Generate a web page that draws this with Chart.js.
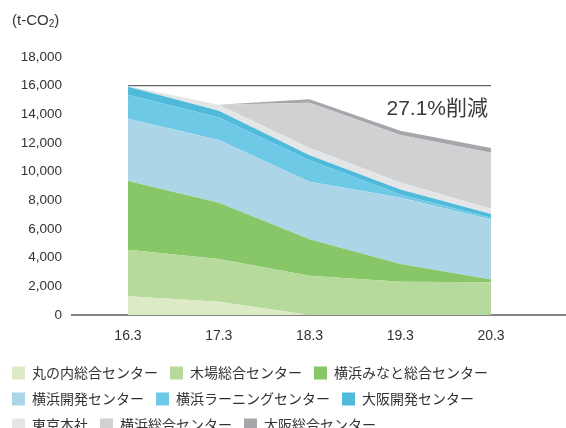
<!DOCTYPE html>
<html>
<head>
<meta charset="utf-8">
<script src="https://cdn.jsdelivr.net/npm/chart.js@4"></script>
<style>
  html, body { margin: 0; padding: 0; background: #fff; overflow: hidden; }
  #wrap { width: 566px; height: 442px; }
</style>
</head>
<body>
<div id="wrap"><canvas id="grafico"></canvas></div>
<script>
// datos (t-CO2) por año fiscal
const periodos = ["16.3", "17.3", "18.3", "19.3", "20.3"];
const marunouchi = [1310, 930, 0, 0, 0];
const kiba = [3250, 2980, 2740, 2320, 2280];
const minato = [4790, 3930, 2540, 1240, 200];
const yokohamaKaihatsu = [4350, 4370, 4020, 4640, 4190];
const yokohamaLearning = [1670, 1570, 1500, 200, 120];
const osakaKaihatsu = [560, 470, 350, 350, 250];
const tokyoHonsha = [50, 420, 500, 500, 380];
const yokohamaSogo = [0, 0, 3150, 3300, 3900];
const osakaSogo = [0, 0, 250, 300, 330];
const nivelBase = [16000, 16000, 16000, 16000, 16000];
const ticksY = [0, 2000, 4000, 6000, 8000, 10000, 12000, 14000, 16000, 18000];

const unidad = "(t-CO";
const textoReduccion = "27.1%削減";

const series = [
  { nombre: "丸の内総合センター", datos: marunouchi, color: "#dcebc5" },
  { nombre: "木場総合センター", datos: kiba, color: "#b6da9b" },
  { nombre: "横浜みなと総合センター", datos: minato, color: "#87c767" },
  { nombre: "横浜開発センター", datos: yokohamaKaihatsu, color: "#acd5e8" },
  { nombre: "横浜ラーニングセンター", datos: yokohamaLearning, color: "#6ec9e6" },
  { nombre: "大阪開発センター", datos: osakaKaihatsu, color: "#4fbad9" },
  { nombre: "東京本社", datos: tokyoHonsha, color: "#e4e5e7" },
  { nombre: "横浜総合センター", datos: yokohamaSogo, color: "#d0d1d3" },
  { nombre: "大阪総合センター", datos: osakaSogo, color: "#a6a7ab" }
];

const datasets = series.map((s, i) => ({
  label: s.nombre,
  data: s.datos.map((v, j) => ({ x: j, y: v })),
  backgroundColor: s.color,
  borderColor: s.color,
  borderWidth: 0,
  pointRadius: 0,
  tension: 0,
  fill: i === 0 ? "origin" : "-1",
  stack: "total"
}));

datasets.push({
  label: "base",
  data: nivelBase.map((v, j) => ({ x: j, y: v })),
  borderColor: "#666",
  borderWidth: 1.2,
  pointRadius: 0,
  fill: false,
  stack: "ref"
});

const textos = {
  id: "textos",
  afterDraw(chart) {
    const ctx = chart.ctx;
    const sx = chart.scales.x;
    const sy = chart.scales.y;
    ctx.save();
    ctx.fillStyle = "#333";
    ctx.textBaseline = "alphabetic";

    // unidad arriba a la izquierda
    ctx.font = "15px 'Liberation Sans', Arial, sans-serif";
    ctx.textAlign = "left";
    ctx.fillText(unidad, 12, 25);
    let x = 12 + ctx.measureText(unidad).width;
    ctx.font = "10px 'Liberation Sans', Arial, sans-serif";
    ctx.fillText("2", x, 27);
    x += ctx.measureText("2").width;
    ctx.font = "15px 'Liberation Sans', Arial, sans-serif";
    ctx.fillText(")", x, 25);

    // porcentaje de reducción
    ctx.font = "21px 'Liberation Sans', 'Noto Sans CJK JP', sans-serif";
    ctx.fillStyle = "#3a3a3a";
    ctx.textAlign = "right";
    ctx.fillText(textoReduccion, sx.getPixelForValue(4) - 3, sy.getPixelForValue(16000) + 29);
    ctx.restore();
  }
};

const ctx = document.getElementById("grafico").getContext("2d");
new Chart(ctx, {
  type: "line",
  data: { datasets },
  options: {
    responsive: true,
    maintainAspectRatio: false,
    animation: false,
    layout: { padding: { top: 57, left: 0, right: 0, bottom: 0 } },
    plugins: {
      tooltip: { enabled: false },
      legend: {
        position: "bottom",
        align: "start",
        labels: {
          filter: item => item.text !== "base",
          boxWidth: 13,
          boxHeight: 13,
          padding: 12,
          color: "#333",
          font: { family: "'Noto Sans CJK JP', sans-serif", size: 14 }
        }
      }
    },
    scales: {
      x: {
        type: "linear",
        min: -0.617,
        max: 4.826,
        grid: { display: false },
        border: { display: true, color: "#858585", width: 2 },
        afterBuildTicks: s => { s.ticks = periodos.map((p, i) => ({ value: i })); },
        afterFit: s => { s.height = 39; },
        ticks: {
          padding: 5,
          color: "#333",
          font: { family: "'Liberation Sans', Arial, sans-serif", size: 14 },
          callback: v => periodos[v]
        }
      },
      y: {
        stacked: true,
        min: 0,
        max: 18000,
        grid: { display: false, drawTicks: false },
        border: { display: false },
        afterBuildTicks: s => { s.ticks = ticksY.map(v => ({ value: v })); },
        afterFit: s => { s.width = 72; },
        ticks: {
          padding: 10,
          color: "#333",
          font: { family: "'Liberation Sans', Arial, sans-serif", size: 13.5 },
          callback: v => v.toLocaleString("en-US")
        }
      }
    }
  },
  plugins: [textos]
});
</script>
</body>
</html>
